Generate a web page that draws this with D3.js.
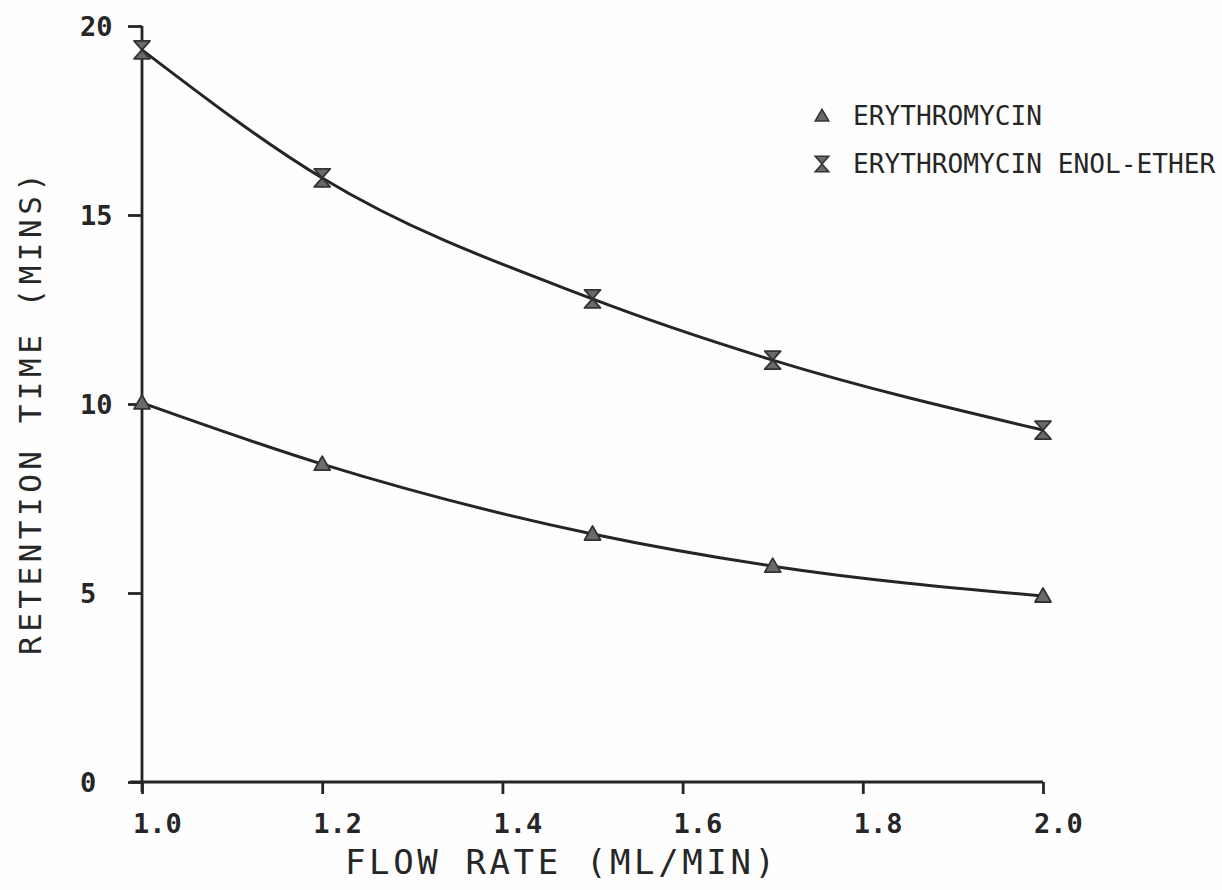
<!DOCTYPE html>
<html>
<head>
<meta charset="utf-8">
<script src="https://cdn.jsdelivr.net/npm/d3@7"></script>
<style>
  html, body { margin: 0; padding: 0; background: #fefefe; }
  svg { display: block; }
  text { fill: #262626; }
</style>
</head>
<body>
<svg id="chart" width="1222" height="890"></svg>
<script>
// ---- Data ----
const flowRates = [1.0, 1.2, 1.5, 1.7, 2.0];
const erythromycin = [10.03, 8.41, 6.56, 5.71, 4.92];
const enolEther = [19.37, 15.98, 12.78, 11.16, 9.31];
const xTicks = [1.0, 1.2, 1.4, 1.6, 1.8, 2.0];
const xTickLabels = ["1.0", "1.2", "1.4", "1.6", "1.8", "2.0"];
const yTicks = [0, 5, 10, 15, 20];
const yTickLabels = ["0", "5", "10", "15", "20"];
const seriesNames = ["ERYTHROMYCIN", "ERYTHROMYCIN ENOL-ETHER"];
const xTitle = "FLOW RATE (ML/MIN)";
const yTitle = "RETENTION TIME (MINS)";

(function () {
// ---- Layout ----
const svg = d3.select("#chart");
const pLeft = 142, pRight = 1043, pTop = 26, pBottom = 782;
const x = d3.scaleLinear().domain([1.0, 2.0]).range([pLeft, pRight]);
const y = d3.scaleLinear().domain([0, 20]).range([pBottom, pTop]);
const ink = "#252525";
const monoFont = "'DejaVu Sans Mono', 'Liberation Mono', monospace";

// Axes
const yAxis = d3.axisLeft(y).tickValues(yTicks).tickSize(14).tickFormat("");
const gy = svg.append("g").attr("transform", `translate(${pLeft},0)`).call(yAxis);
gy.select(".domain").attr("d", `M0,${pBottom + 10}V${pTop}`);
gy.selectAll("path,line").attr("stroke", ink).attr("stroke-width", 2.8);

const xAxis = d3.axisBottom(x).tickValues(xTicks).tickSize(12).tickFormat("");
const gx = svg.append("g").attr("transform", `translate(0,${pBottom})`).call(xAxis);
gx.select(".domain").attr("d", `M${pLeft - 12},0H${pRight}`);
gx.selectAll("path,line").attr("stroke", ink).attr("stroke-width", 2.8);

// Tick labels
svg.append("g").selectAll("text").data(yTicks).join("text")
  .attr("x", 80).attr("y", d => y(d))
  .attr("dominant-baseline", "central")
  .attr("font-family", monoFont).attr("font-weight", "bold")
  .attr("font-size", 27)
  .text((d, i) => yTickLabels[i]);

svg.append("g").selectAll("text").data(xTicks).join("text")
  .attr("x", d => x(d) - 9).attr("y", 823)
  .attr("dominant-baseline", "central")
  .attr("font-family", monoFont).attr("font-weight", "bold")
  .attr("font-size", 27)
  .text((d, i) => xTickLabels[i]);

// Axis titles
svg.append("text")
  .attr("x", 345).attr("y", 874)
  .attr("font-family", monoFont).attr("font-size", 34)
  .attr("textLength", 430).attr("lengthAdjust", "spacing")
  .text(xTitle);

svg.append("text")
  .attr("transform", "translate(41,655) rotate(-90)")
  .attr("font-family", monoFont).attr("font-size", 31)
  .attr("textLength", 482).attr("lengthAdjust", "spacing")
  .text(yTitle);

// Lines
const line = d3.line().x(d => x(d[0])).y(d => y(d[1])).curve(d3.curveMonotoneX);
const s1 = flowRates.map((f, i) => [f, erythromycin[i]]);
const s2 = flowRates.map((f, i) => [f, enolEther[i]]);
[s1, s2].forEach(s => {
  svg.append("path").datum(s).attr("d", line)
    .attr("fill", "none").attr("stroke", ink).attr("stroke-width", 3);
});

// Markers
const triPath = "M-8,6L8,6L0,-8Z";
const hourPath = "M-8,-9L8,-9L0,0L8,9L-8,9L0,0Z";
function drawMarkers(data, path) {
  svg.append("g").selectAll("path").data(data).join("path")
    .attr("transform", d => `translate(${x(d[0])},${y(d[1])})`)
    .attr("d", path)
    .attr("fill", "#6a6a6a").attr("stroke", "#333").attr("stroke-width", 1.8)
    .attr("stroke-linejoin", "round");
}
drawMarkers(s1, triPath);
drawMarkers(s2, hourPath);

// Legend
const legendY = [116, 164];
const legendPaths = [triPath, hourPath];
seriesNames.forEach((name, i) => {
  svg.append("path")
    .attr("transform", `translate(822,${legendY[i]}) scale(0.85)`)
    .attr("d", legendPaths[i])
    .attr("fill", "#6a6a6a").attr("stroke", "#333").attr("stroke-width", 1.8);
  svg.append("text")
    .attr("x", 853).attr("y", legendY[i])
    .attr("dominant-baseline", "central")
    .attr("font-family", monoFont).attr("font-size", 26)
    .attr("textLength", name.length * 15.75).attr("lengthAdjust", "spacingAndGlyphs")
    .text(name);
});
})();
</script>
</body>
</html>
